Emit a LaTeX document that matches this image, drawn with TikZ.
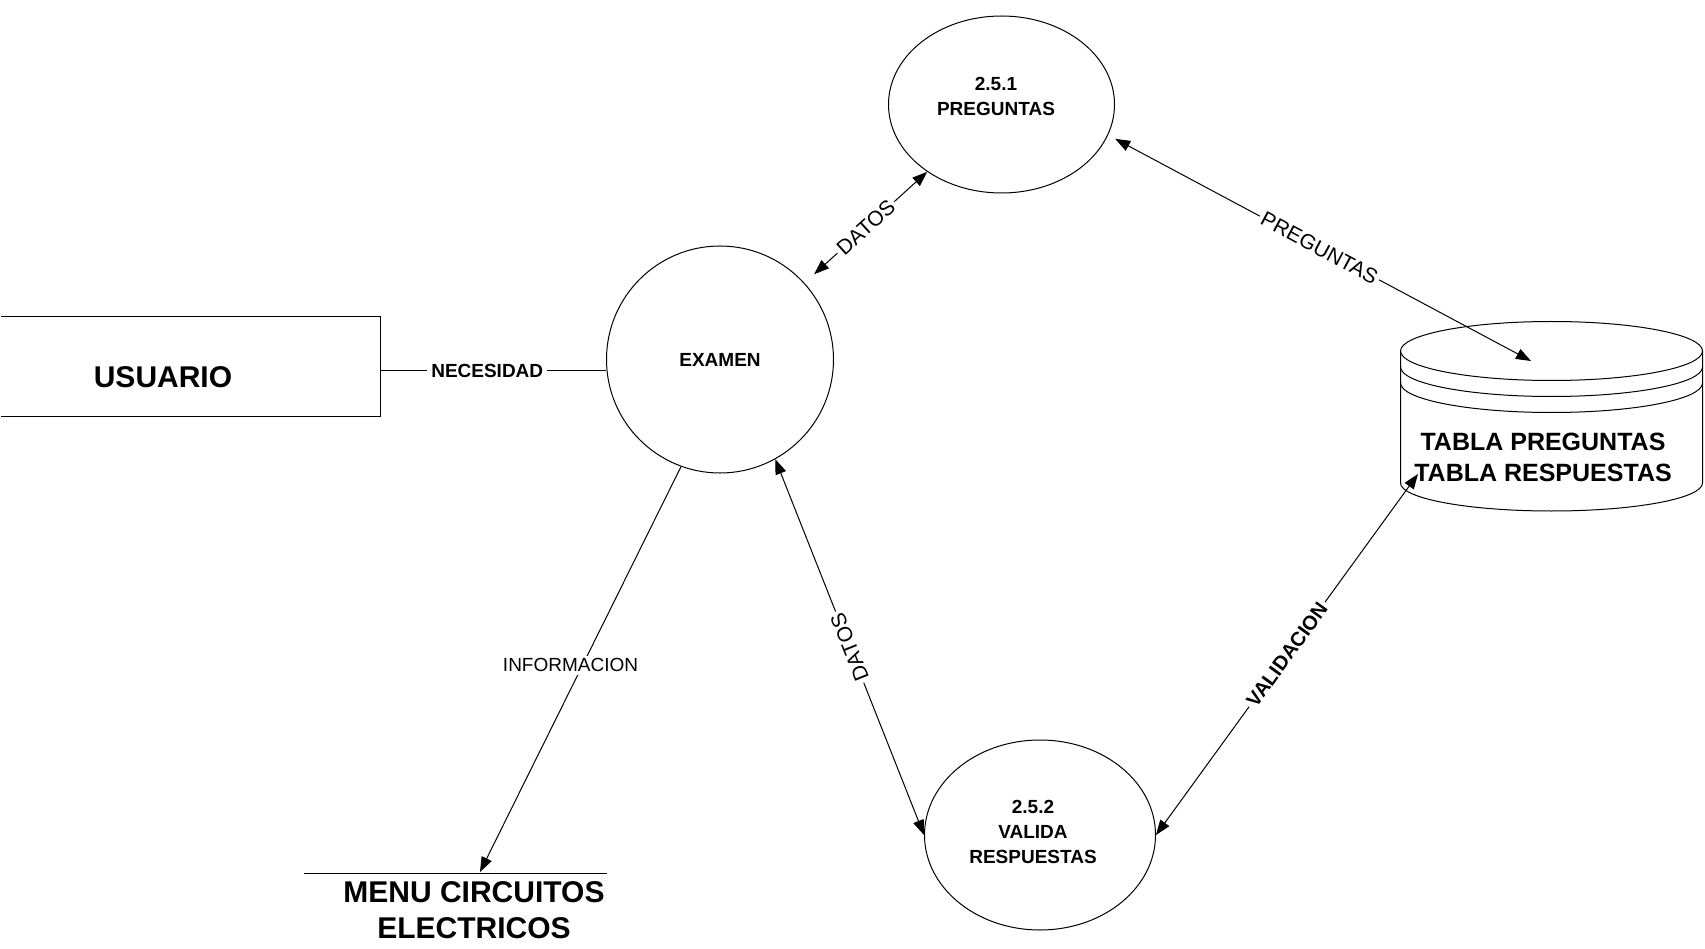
\documentclass[tikz,border=0pt]{standalone}
\usepackage{fontspec}
\setmainfont{Liberation Sans}
\usetikzlibrary{shapes.geometric,arrows.meta}

\begin{document}
\begin{tikzpicture}[x=1pt,y=-1pt,
  every node/.style={font=\fontsize{19}{25}\selectfont\bfseries, align=center},
  bubble/.style={draw, line width=1pt, inner sep=0pt},
  tip/.tip={Triangle[length=15pt,width=11pt]},
  flow/.style={line width=1pt, tip-tip},
  oneway/.style={line width=1pt, -tip},
  flowlabel/.style={fill=white, inner sep=3pt, font=\fontsize{21}{24}\selectfont},
  boldlabel/.style={fill=white, inner sep=3pt, font=\fontsize{20}{24}\selectfont\bfseries},
]
\useasboundingbox (0,0) rectangle (1705,949);

% external entity
\node[minimum width=379pt, minimum height=99pt, inner sep=0pt] (usuario) at (190.5,366.5) {};
\draw[line width=1pt] (usuario.north west) -- (usuario.north east)
  -- (usuario.south east) -- (usuario.south west);
\node[font=\fontsize{30}{36}\selectfont\bfseries] (usuariotext) at (163,377) {USUARIO};

% processes
\node[bubble, circle, minimum size=227pt] (examen) at (720,359.5) {EXAMEN};
\node[bubble, ellipse, minimum width=226pt, minimum height=177pt] (preg) at (1001.5,104.5) {};
\node (pregtext) at (996,96) {2.5.1\\PREGUNTAS};
\node[bubble, ellipse, minimum width=231pt, minimum height=190pt] (valida) at (1040,835) {};
\node (validatext) at (1033,832) {2.5.2\\VALIDA\\RESPUESTAS};

% data store: tables
\draw[line width=1pt] (1551.5,351) ellipse [x radius=151, y radius=29.5];
\draw[line width=1pt] (1400.5,367) arc[start angle=180, end angle=0, x radius=151, y radius=29.5];
\draw[line width=1pt] (1400.5,383) arc[start angle=180, end angle=0, x radius=151, y radius=29.5];
\draw[line width=1pt] (1400.5,351) -- (1400.5,483)
  arc[start angle=180, end angle=0, x radius=151, y radius=28] -- (1702.5,351);
\node[font=\fontsize{25}{31}\selectfont\bfseries] (dbtext) at (1543,457) {TABLA PREGUNTAS\\TABLA RESPUESTAS};
\coordinate (dbtop) at (1531,361);
\coordinate (dbbot) at (1418,474);

% data store: menu
\draw[line width=1pt] (304,873) -- (607,873);
\node[font=\fontsize{30}{36}\selectfont\bfseries, anchor=north, inner sep=0pt] (menu) at (474,881) {MENU CIRCUITOS\\ELECTRICOS};
\coordinate (menuline) at (480,872);

% flows
\draw[line width=1pt] ([yshift=-4pt]usuario.east) -- ([yshift=-4pt]usuario.east -| examen.west)
  node[pos=0.474, fill=white, inner sep=4pt] {NECESIDAD};
\draw[flow, shorten <=13pt] (examen) -- (preg)
  node[midway, sloped, flowlabel] {DATOS};
\draw[flow, shorten <=8pt] (preg.-16) -- (dbtop)
  node[midway, sloped, flowlabel] {PREGUNTAS};
\draw[flow] (examen.-61.6) -- (valida.west)
  node[midway, flowlabel, rotate=111.9] {DATOS};
\draw[flow] (dbbot) -- (valida.east)
  node[midway, sloped, boldlabel] {VALIDACION};
\draw[oneway] (examen.-110) -- (menuline)
  node[pos=0.49, xshift=-12pt, flowlabel, font=\fontsize{19}{22}\selectfont] {INFORMACION};
\end{tikzpicture}
\end{document}
